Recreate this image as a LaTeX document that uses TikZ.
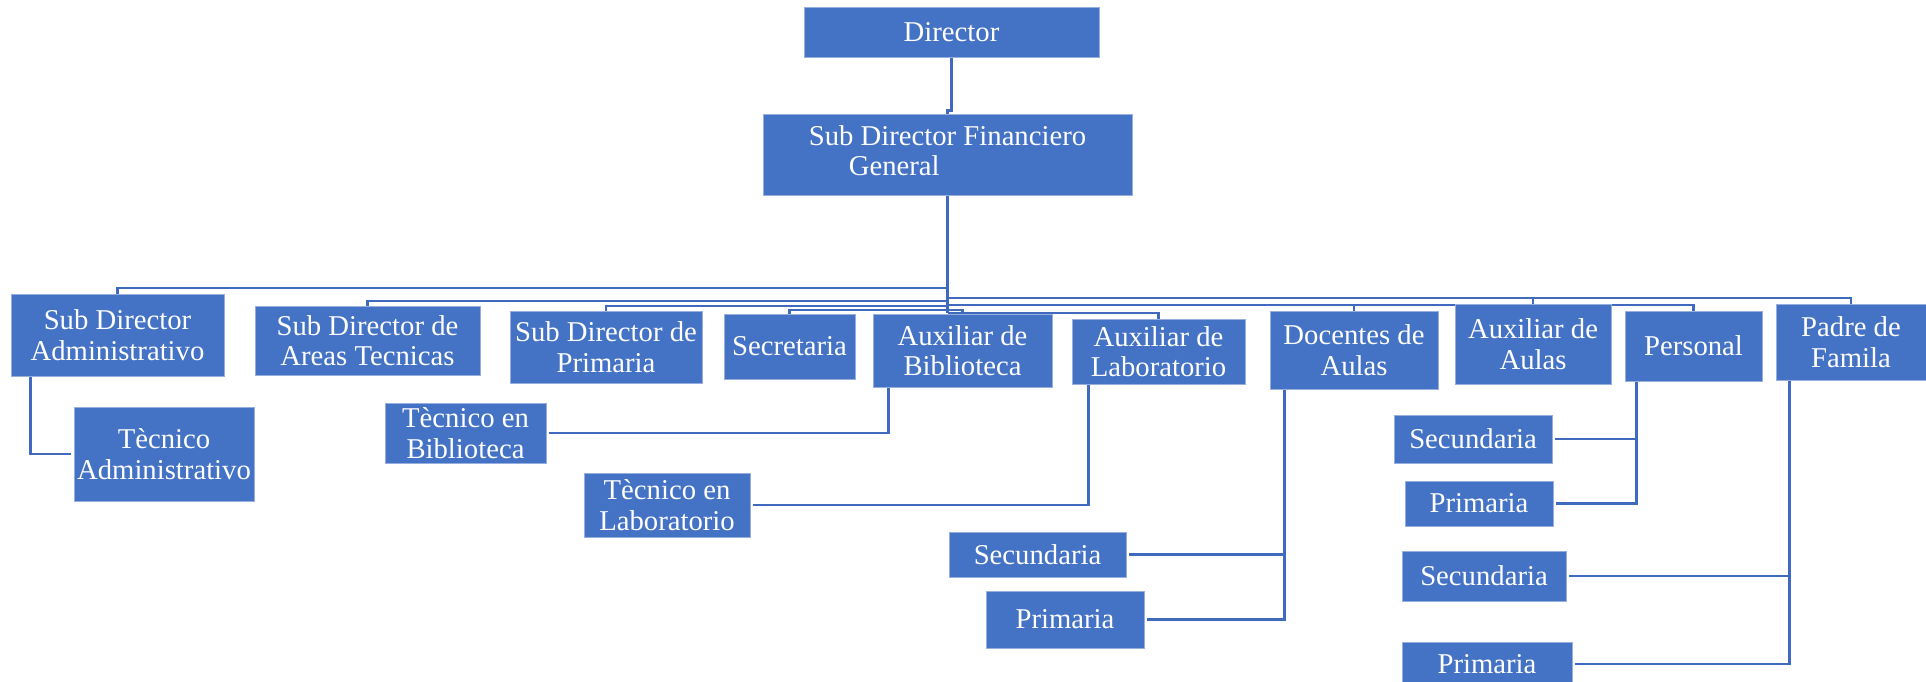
\documentclass[tikz,border=0pt]{standalone}
\usepackage{fontspec}
\setmainfont{Liberation Serif}
\definecolor{boxblue}{RGB}{68,114,196}
\definecolor{boxedge}{RGB}{150,175,222}
\definecolor{linkblue}{RGB}{64,106,190}
\pgfdeclarelayer{background}
\pgfsetlayers{background,main}
\begin{document}
\begin{tikzpicture}[x=0.5pt,y=-0.5pt,
  orgbox/.style={rectangle, fill=boxblue, draw=boxedge, line width=0.4pt,
    inner sep=0pt, text=white, align=center,
    font=\fontsize{14.35}{15.3}\selectfont},
  size/.style 2 args={minimum width=#1*0.5pt, minimum height=#2*0.5pt},
  conn/.style={draw=linkblue, line width=1.35pt}]
\useasboundingbox (0,0) rectangle (1926,681);
\clip (0,0) rectangle (1926,681);

% top of the chart
\node[orgbox, size={295}{50}] (dir) at (951.5,32) {Director};
\node[orgbox, size={369}{81}] (gen) at (947.5,154.5)
  {\begin{tabular}{@{}l@{}}Sub Director Financiero\\\hspace*{20pt}General\end{tabular}};

% second level
\node[orgbox, size={213}{82}] (sda)   at (117.5,335)   {Sub Director\\Administrativo};
\node[orgbox, size={225}{69}] (sdat)  at (367.5,340.5) {Sub Director de\\Areas Tecnicas};
\node[orgbox, size={192}{72}] (sdp)   at (606,347)     {Sub Director de\\Primaria};
\node[orgbox, size={131}{65}] (secr)  at (789.5,346.5) {Secretaria};
\node[orgbox, size={179}{73}] (bib)   at (962.5,350.5) {Auxiliar de\\Biblioteca};
\node[orgbox, size={173}{65}] (lab)   at (1158.5,351.5){Auxiliar de\\Laboratorio};
\node[orgbox, size={168}{78}] (doc)   at (1354,350)    {Docentes de\\Aulas};
\node[orgbox, size={156}{80}] (aula)  at (1533,344)    {Auxiliar de\\Aulas};
\node[orgbox, size={137}{70}] (pers)  at (1693.5,346)  {Personal};
\node[orgbox, size={150}{76}] (padre) at (1851,342)    {Padre de\\Famila};

% third level
\node[orgbox, size={180}{94}] (ta)   at (164,454)      {Tècnico\\Administrativo};
\node[orgbox, size={161}{60}] (tb)   at (465.5,433)    {Tècnico en\\Biblioteca};
\node[orgbox, size={166}{64}] (tl)   at (667,505)      {Tècnico en\\Laboratorio};
\node[orgbox, size={177}{45}] (dsec) at (1037.5,554.5) {Secundaria};
\node[orgbox, size={158}{57}] (dpri) at (1065,619.5)   {Primaria};
\node[orgbox, size={158}{48}] (psec) at (1473,439)     {Secundaria};
\node[orgbox, size={148}{45}] (ppri) at (1479,503.5)   {Primaria};
\node[orgbox, size={164}{50}] (fsec) at (1484,576)     {Secundaria};
\node[orgbox, size={170}{44}] (fpri) at (1487,664)     {Primaria};

% connectors, kept behind the boxes
\begin{pgfonlayer}{background}
\draw[conn] (dir.south) -- ++(0,53) -| (gen.north);
\draw[conn] (gen.south) -- ++(0,118);
\draw[conn] (gen.south |- 0,288) -| (sda.north);
\draw[conn] (gen.south |- 0,301) -| (sdat.north);
\draw[conn] (gen.south |- 0,306) -| (sdp.north);
\draw[conn] (gen.south |- 0,310) -| (secr.north);
\draw[conn] (gen.south |- 0,310) -| (bib.north);
\draw[conn] (gen.south |- 0,313) -| (lab.north);
\draw[conn] (gen.south |- 0,305) -| (doc.north);
\draw[conn] (gen.south |- 0,298) -| (aula.north);
\draw[conn] (gen.south |- 0,305) -| (pers.north);
\draw[conn] (gen.south |- 0,298) -| (padre.north);

\draw[conn] ([xshift=10pt]sda.south west) |- ([xshift=-1.5pt]ta.west);
\draw[conn] ([xshift=8pt]bib.south west) |- ([xshift=1.5pt]tb.east);
\draw[conn] ([xshift=8.5pt]lab.south west) |- ([xshift=1.5pt]tl.east);
\draw[conn] ([xshift=7.5pt]doc.south west) |- ([xshift=1.5pt]dsec.east);
\draw[conn] ([xshift=7.5pt]doc.south west) |- ([xshift=1.5pt]dpri.east);
\draw[conn] ([xshift=6pt]pers.south west) |- ([xshift=1.5pt]psec.east);
\draw[conn] ([xshift=6pt]pers.south west) |- ([xshift=1.5pt]ppri.east);
\draw[conn] ([xshift=7pt]padre.south west) |- ([xshift=1.5pt]fsec.east);
\draw[conn] ([xshift=7pt]padre.south west) |- ([xshift=1.5pt]fpri.east);
\end{pgfonlayer}
\end{tikzpicture}
\end{document}
